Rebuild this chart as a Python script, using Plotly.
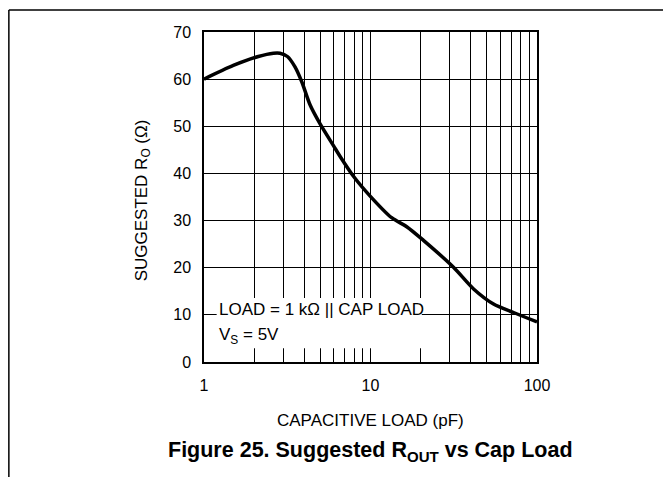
import plotly.graph_objects as go

# Data
cap_load_pf = [1, 1.5, 2.12, 2.61, 2.86, 3.17, 3.52, 3.87, 4.34, 4.98, 5.99, 6.57,
               7.9, 9.95, 13.4, 16.5, 20.8, 31.5, 41.6, 54.8, 72.3, 100]
suggested_ro = [60.0, 62.9, 64.8, 65.5, 65.5, 64.8, 62.6, 59.4, 54.5, 50.5, 45.9, 43.6,
                39.4, 35.2, 30.6, 28.7, 25.8, 20.1, 15.5, 12.3, 10.5, 8.5]

x_major_ticks = [1, 10, 100]
x_major_labels = ["1", "10", "100"]
x_minor_ticks = [2, 3, 4, 5, 6, 7, 8, 9, 20, 30, 40, 50, 60, 70, 80, 90]
y_tickvals = [0, 10, 20, 30, 40, 50, 60, 70]

FONT = "Liberation Sans, Arial, sans-serif"

fig = go.Figure()
fig.add_trace(go.Scatter(
    x=cap_load_pf, y=suggested_ro, mode="lines",
    line=dict(color="black", width=3.5, shape="spline", smoothing=0.8),
    hoverinfo="skip", showlegend=False,
))

fig.update_layout(
    width=671, height=477,
    margin=dict(l=196, r=142, t=24, b=123),
    paper_bgcolor="white", plot_bgcolor="white",
    font=dict(family=FONT, color="black", size=16),
    showlegend=False,
)
fig.update_xaxes(
    type="log", range=[0, 2],
    tickmode="array", tickvals=x_major_ticks, ticktext=x_major_labels,
    showgrid=True, gridcolor="black", gridwidth=1,
    minor=dict(tickmode="array", tickvals=x_minor_ticks, showgrid=True,
               gridcolor="black", gridwidth=1, ticks=""),
    showline=True, linecolor="black", linewidth=1.5, mirror=True,
    ticks="", ticklabelstandoff=8, tickfont=dict(size=16),
    zeroline=False,
)
fig.update_yaxes(
    range=[0, 70], tickmode="array", tickvals=y_tickvals,
    showgrid=True, gridcolor="black", gridwidth=1,
    showline=True, linecolor="black", linewidth=1.5, mirror=True,
    ticks="", ticklabelstandoff=8, tickfont=dict(size=16),
    zeroline=False,
)

# white box behind the condition text (the curve does not pass here)
fig.add_shape(type="rect", xref="paper", yref="paper",
              x0=0.038, x1=0.654, y0=0.042, y1=0.194,
              fillcolor="white", line=dict(width=0), layer="above")

# page frame lines
fig.add_shape(type="line", xref="paper", yref="paper",
              x0=-0.586, x1=1.42, y0=1.0667, y1=1.0667,
              line=dict(color="black", width=1.5))
fig.add_shape(type="line", xref="paper", yref="paper",
              x0=-0.586, x1=-0.586, y0=1.0667, y1=-0.38,
              line=dict(color="black", width=1.5))

annots = [
    dict(text="LOAD = 1 kΩ || CAP LOAD", x=0.039, y=0.1606, xanchor="left", yanchor="middle",
         font=dict(size=17)),
    dict(text="V<sub>S</sub> = 5V", x=0.039, y=0.078, xanchor="left", yanchor="middle",
         font=dict(size=17)),
    dict(text="CAPACITIVE LOAD (pF)", x=0.5, y=-0.1758, xanchor="center", yanchor="middle",
         font=dict(size=17)),
    dict(text="SUGGESTED R<sub>O</sub> (Ω)", x=-0.183, y=0.49, xanchor="center", yanchor="middle",
         textangle=-90, font=dict(size=17)),
    dict(text="<b>Figure 25. Suggested R<sub>OUT</sub> vs Cap Load</b>", x=0.5, y=-0.2727,
         xanchor="center", yanchor="middle", font=dict(size=21.5)),
]
for a in annots:
    fig.add_annotation(xref="paper", yref="paper", showarrow=False, **a)

fig.write_html("out.html")
